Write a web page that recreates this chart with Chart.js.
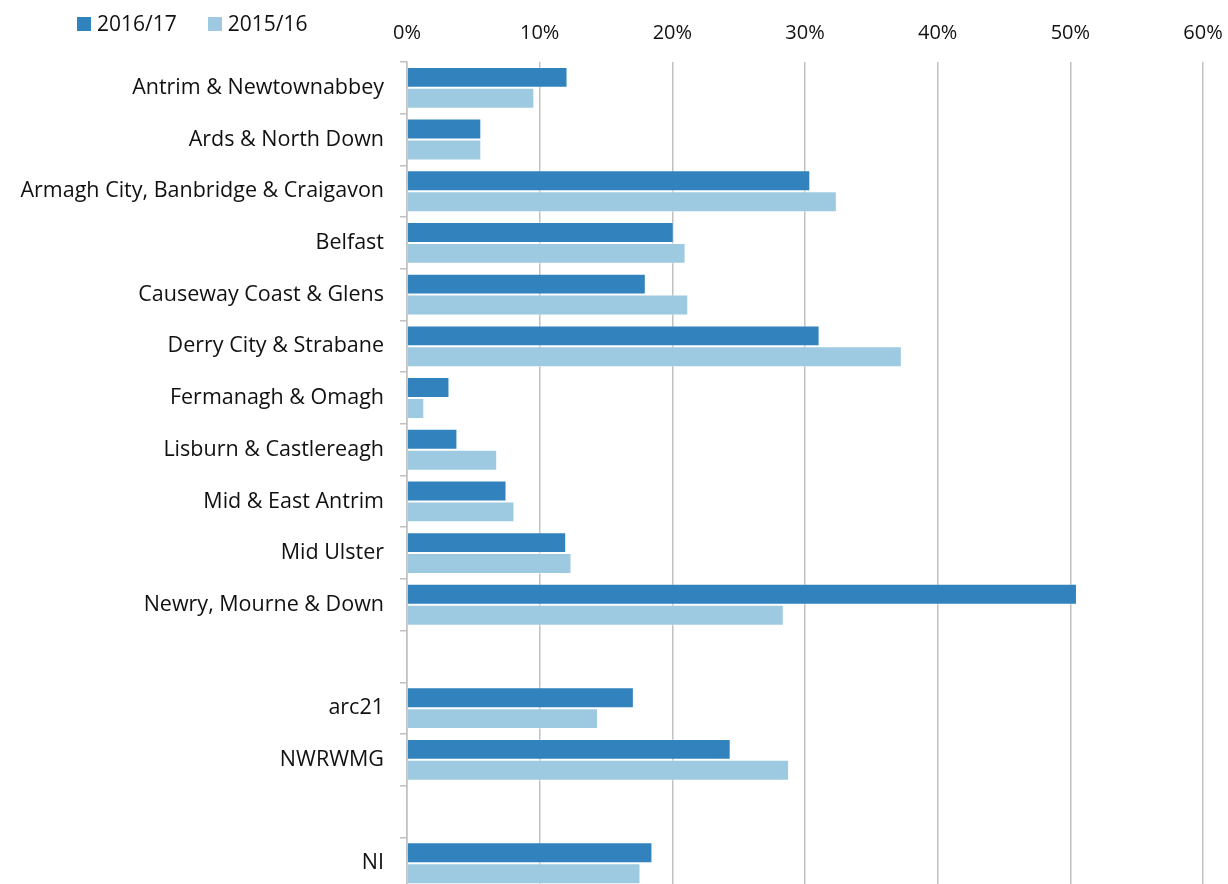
<!DOCTYPE html>
<html>
<head>
<meta charset="utf-8">
<script src="https://cdn.jsdelivr.net/npm/chart.js@4.4.0/dist/chart.umd.min.js"></script>
<style>
  html, body { margin: 0; padding: 0; background: #fff; overflow: hidden; }
  .wrap { position: relative; width: 1228px; height: 884px; overflow: hidden; }
  .chart-box { position: absolute; left: 0; top: 0; width: 1228px; height: 918px; }
  .legend { position: absolute; left: 77px; top: 9px; font-family: "Open Sans", sans-serif; font-size: 21px; color: #111; display: flex; gap: 31px; }
  .legend span.sw { display: inline-block; width: 14px; height: 14px; margin-right: 6px; vertical-align: 0px; }
</style>
</head>
<body>
<div class="wrap">
  <div class="chart-box"><canvas id="myChart"></canvas></div>
  <div class="legend" id="legend"></div>
</div>
<script>
const categories = [
  "Antrim & Newtownabbey", "Ards & North Down", "Armagh City, Banbridge & Craigavon",
  "Belfast", "Causeway Coast & Glens", "Derry City & Strabane", "Fermanagh & Omagh",
  "Lisburn & Castlereagh", "Mid & East Antrim", "Mid Ulster", "Newry, Mourne & Down",
  "", "arc21", "NWRWMG", "", "NI"
];
const values1617 = [12.1, 5.6, 30.4, 20.1, 18.0, 31.1, 3.2, 3.8, 7.5, 12.0, 50.5, null, 17.1, 24.4, null, 18.5];
const values1516 = [9.6, 5.6, 32.4, 21.0, 21.2, 37.3, 1.3, 6.8, 8.1, 12.4, 28.4, null, 14.4, 28.8, null, 17.6];
const seriesNames = ["2016/17", "2015/16"];
const seriesColors = ["#3182bd", "#9ecae1"];
const tickValues = [0, 10, 20, 30, 40, 50, 60];

const font = "'Open Sans', sans-serif";

let legendEl = document.getElementById('legend');
for (let i = 0; i < seriesNames.length; i++) {
    let item = document.createElement('div');
    item.innerHTML = '<span class="sw" style="background:' + seriesColors[i] + '"></span>' + seriesNames[i];
    legendEl.appendChild(item);
}

new Chart("myChart", {
    type: "bar",
    data: {
        labels: categories,
        datasets: [
            { label: seriesNames[0], data: values1617, backgroundColor: seriesColors[0], borderColor: "rgba(255,255,255,0.35)", borderWidth: 1 },
            { label: seriesNames[1], data: values1516, backgroundColor: seriesColors[1], borderColor: "rgba(255,255,255,0.5)", borderWidth: 1 }
        ]
    },
    options: {
        indexAxis: 'y',
        responsive: true,
        maintainAspectRatio: false,
        animation: false,
        layout: { padding: 0 },
        datasets: { bar: { categoryPercentage: 0.81, barPercentage: 1.0 } },
        plugins: { legend: { display: false }, tooltip: { enabled: false } },
        scales: {
            x: {
                position: 'top',
                min: 0,
                max: 60,
                afterBuildTicks: (s) => { s.ticks = tickValues.map(v => ({ value: v })); },
                afterFit: (s) => { s.height = 62; s.paddingRight = 25; s.paddingLeft = 0; },
                ticks: {
                    callback: (v) => v + '%',
                    color: '#111',
                    font: { family: font, size: 20 },
                    padding: 17
                },
                grid: { color: '#c0c0c0', lineWidth: 1.5, drawTicks: false },
                border: { display: false }
            },
            y: {
                afterFit: (s) => { s.width = 407; },
                ticks: {
                    color: '#111',
                    font: { family: font, size: 21.5 },
                    padding: 16,
                    autoSkip: false
                },
                grid: { drawOnChartArea: false, tickLength: 7, color: '#c0c0c0', lineWidth: 1.5 },
                border: { color: '#c0c0c0', width: 1.5 }
            }
        }
    }
});
</script>
</body>
</html>
